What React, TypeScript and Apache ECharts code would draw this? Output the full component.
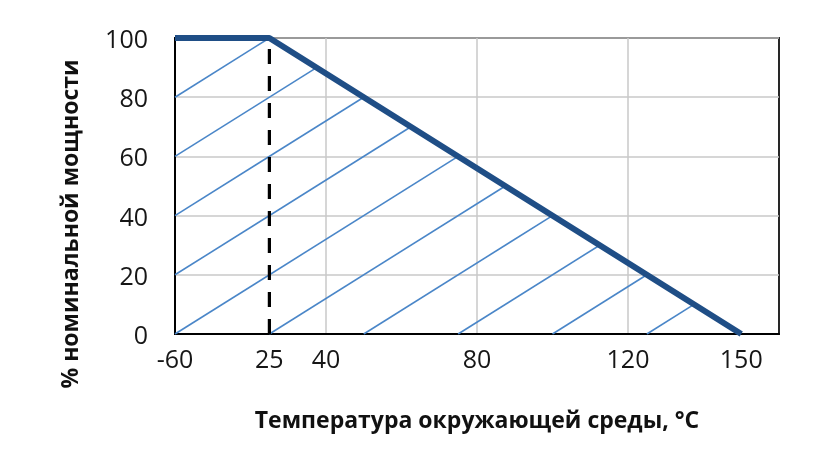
import React, { useEffect, useRef } from "react";
import * as echarts from "echarts";

// Derating curve: temperature (°C) -> % of rated power
const curveTemp = [-60, 25, 150];
const curvePower = [100, 100, 0];

// Reference dashed line at 25 °C
const refTemp = [25, 25];
const refPower = [0, 100];

// Hatch segments (start -> end, where they meet the curve)
const hatchStartT = [-60, -60, -60, -60, -60, 25, 50, 75, 100, 125];
const hatchStartP = [0, 20, 40, 60, 80, 0, 0, 0, 0, 0];
const hatchEndT = [75, 62.5, 50, 37.5, 25, 87.5, 100, 112.5, 125, 137.5];
const hatchEndP = [60, 70, 80, 90, 100, 50, 40, 30, 20, 10];

// Axis labels / gridlines
const xLabelValues = [-60, 25, 40, 80, 120, 150];
const xGridValues = [40, 80, 120];

const xTitle = "Температура окружающей среды, °C";
const yTitle = "% номинальной мощности";

export default function App() {
  const ref = useRef<HTMLDivElement>(null);
  useEffect(() => {
    if (!ref.current) return;
    const chart = echarts.init(ref.current, null, { renderer: "svg" });
    const font = "'Open Sans', 'Noto Sans', sans-serif";
    chart.setOption({
      animation: false,
      grid: {
        left: 175,
        right: 48,
        top: 38,
        bottom: 129,
        show: true,
        borderColor: "#111",
        borderWidth: 1.8,
      },
      xAxis: {
        type: "value",
        min: -60,
        max: 160,
        breaks: [{ start: -60, end: 0, gap: 0 }],
        breakArea: { show: false },
        axisLine: { show: true, onZero: false, lineStyle: { color: "#000", width: 2 } },
        axisTick: { show: false, customValues: xGridValues },
        splitLine: { show: true, lineStyle: { color: "#c8c8c8", width: 1.5 } },
        axisLabel: {
          customValues: xLabelValues,
          fontSize: 25,
          color: "#161616",
          fontFamily: font,
          margin: 11,
        },
        name: xTitle,
        nameLocation: "middle",
        nameGap: 73,
        nameTextStyle: { fontSize: 23, fontWeight: "bold", color: "#111", fontFamily: font },
      },
      yAxis: {
        type: "value",
        min: 0,
        max: 100,
        interval: 20,
        axisLine: { show: true, lineStyle: { color: "#000", width: 2 } },
        axisTick: { show: false },
        splitLine: { show: true, lineStyle: { color: "#c8c8c8", width: 1.5 } },
        axisLabel: { fontSize: 25, color: "#161616", fontFamily: font, margin: 27 },
      },
      graphic: [
        {
          type: "text",
          x: 69,
          y: 224,
          rotation: Math.PI / 2,
          style: {
            text: yTitle,
            fontSize: 23,
            fontWeight: "bold",
            fill: "#111",
            fontFamily: font,
            textAlign: "center",
            textVerticalAlign: "middle",
          },
        },
      ],
      series: [
        {
          type: "lines",
          coordinateSystem: "cartesian2d",
          silent: true,
          lineStyle: { color: "#4a86c8", width: 1.6, opacity: 1 },
          data: hatchStartT.map((t, i) => ({
            coords: [
              [t, hatchStartP[i]],
              [hatchEndT[i], hatchEndP[i]],
            ],
          })),
          z: 2,
        },
        {
          type: "line",
          data: refTemp.map((t, i) => [t, refPower[i]]),
          symbol: "none",
          lineStyle: { color: "#000", width: 3.2, type: [15, 12] },
          z: 3,
        },
        {
          type: "line",
          data: curveTemp.map((t, i) => [t, curvePower[i]]),
          symbol: "none",
          lineStyle: { color: "#1f4e86", width: 6 },
          z: 4,
        },
      ],
    });
    return () => chart.dispose();
  }, []);
  return (
    <div
      ref={ref}
      style={{ position: "fixed", left: 0, top: 0, width: 827, height: 463 }}
    />
  );
}
